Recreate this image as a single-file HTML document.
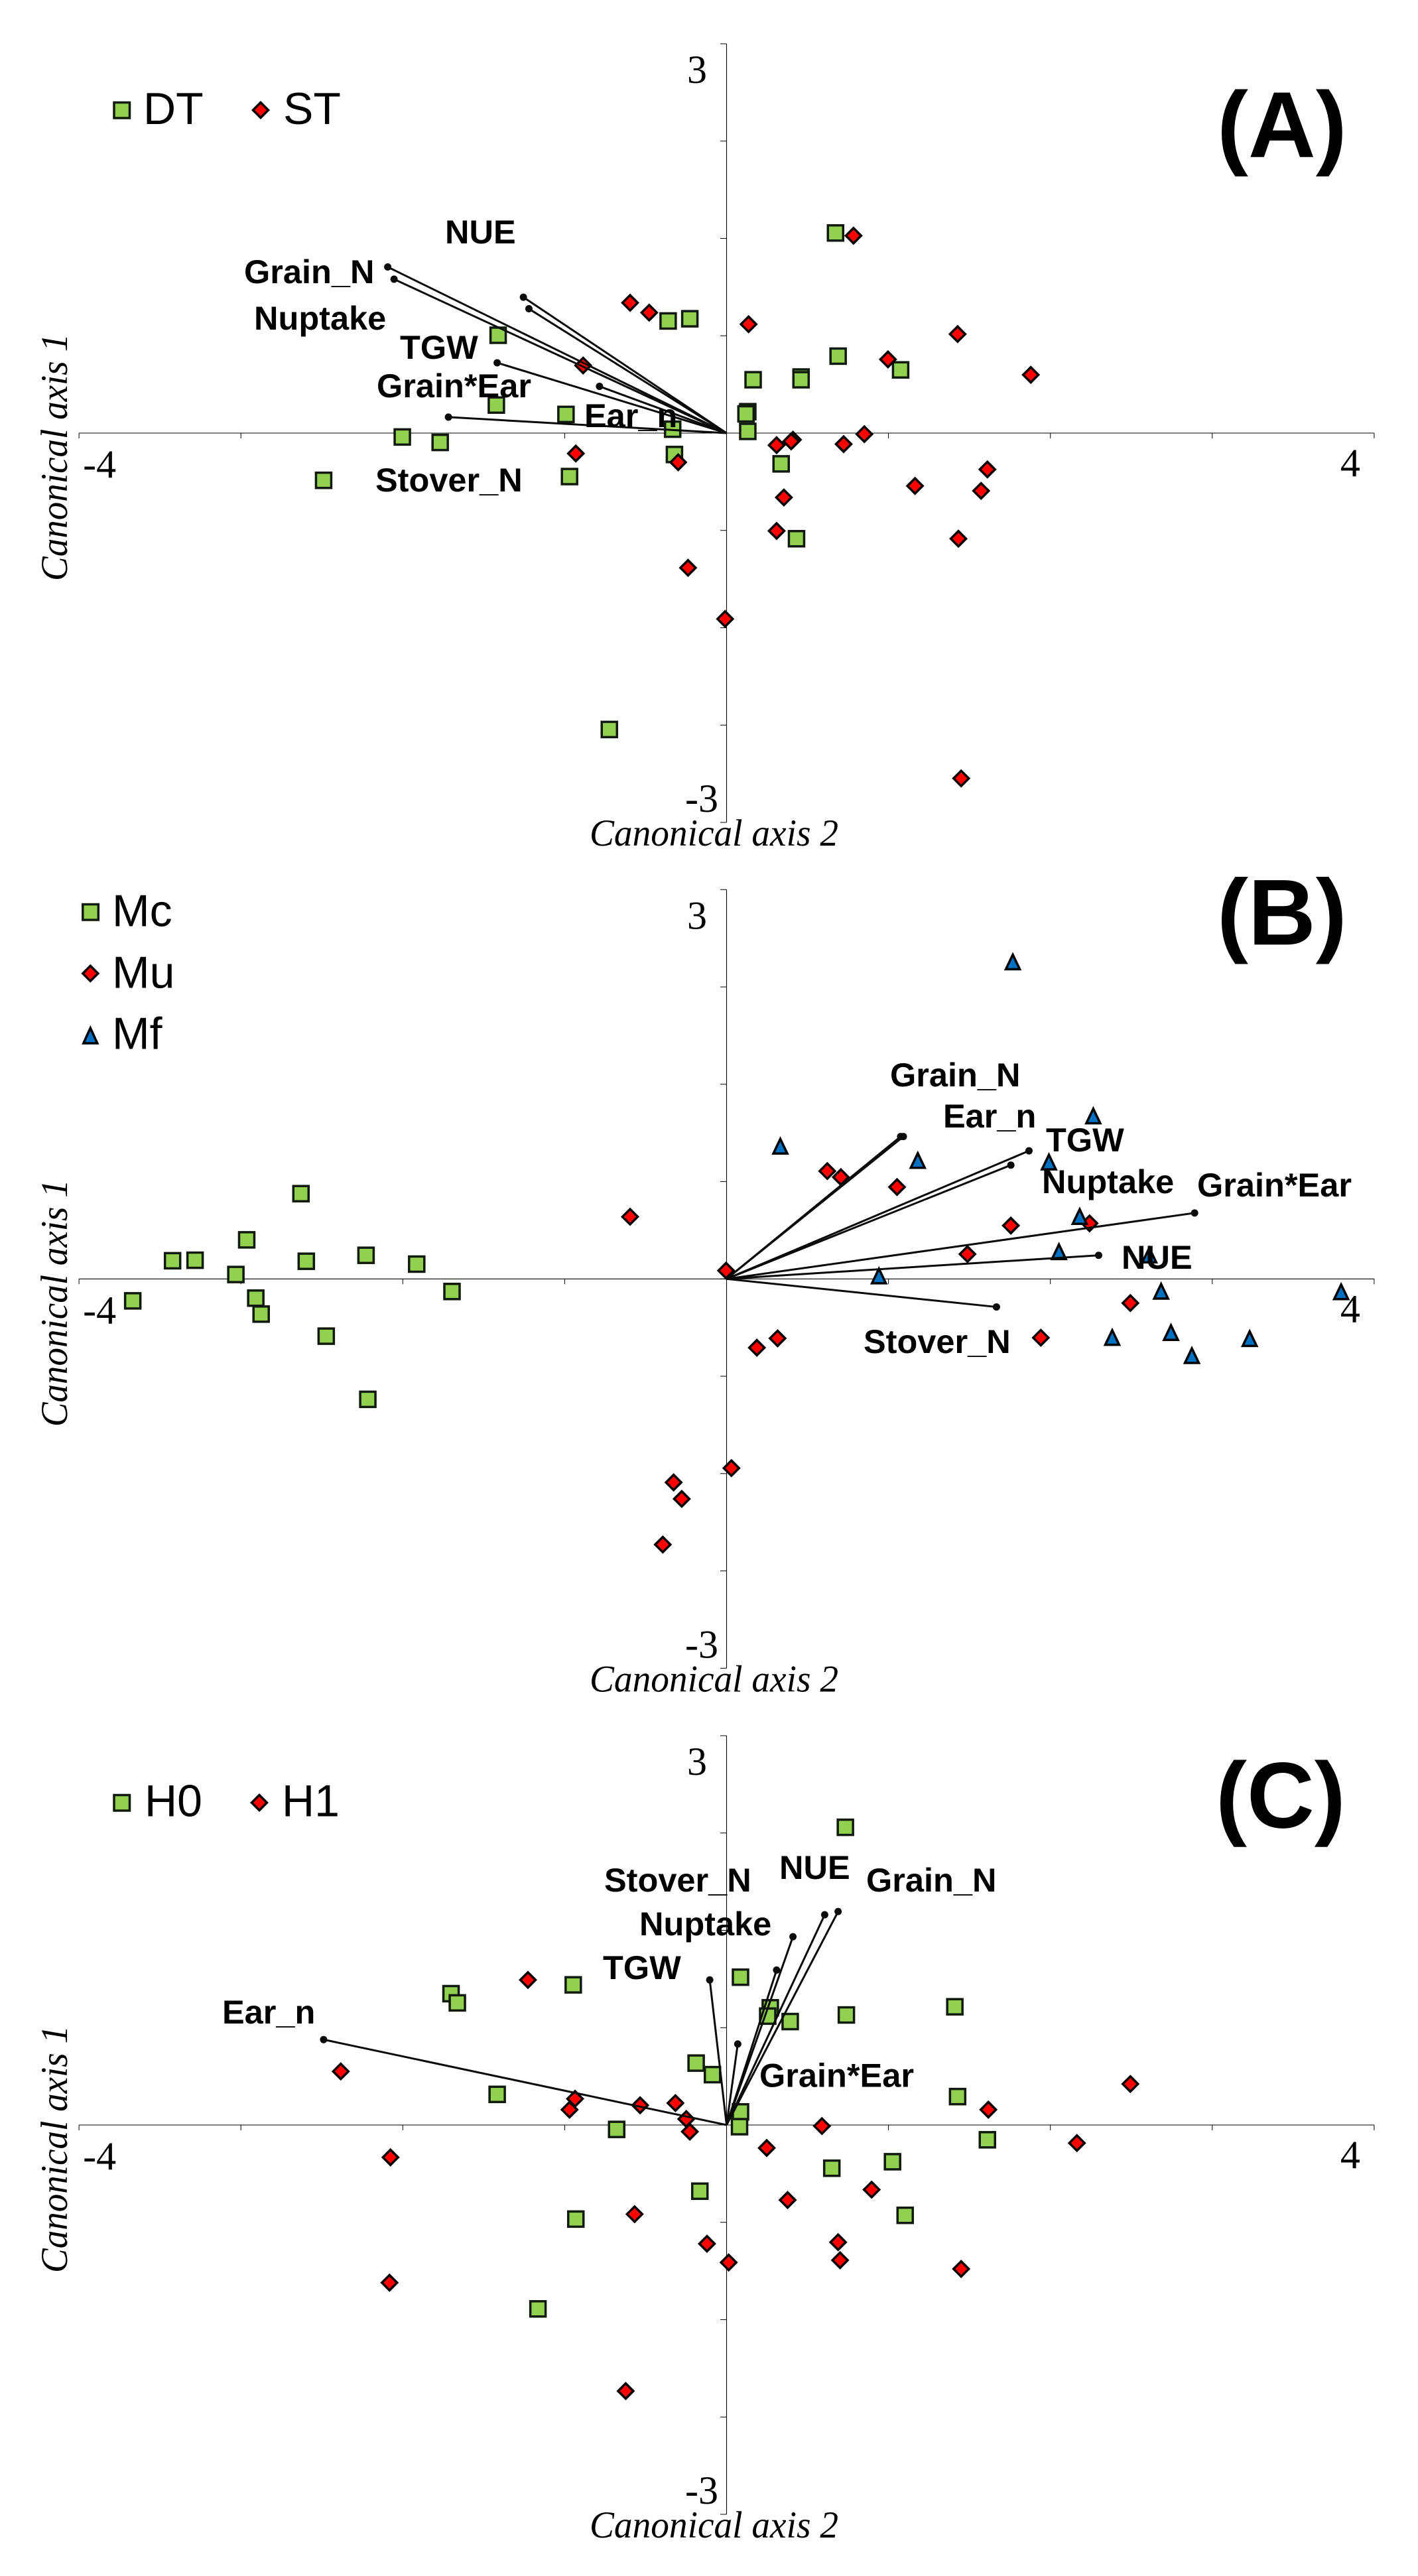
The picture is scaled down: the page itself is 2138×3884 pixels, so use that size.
<!DOCTYPE html>
<html lang="en">
<head>
<meta charset="utf-8">
<title>Canonical discriminant analysis biplots</title>
<style>
html,body{margin:0;padding:0;background:#fff;}
svg{display:block;}
.lab{font-family:"Liberation Sans",Arial,sans-serif;font-weight:700;font-size:50.5px;fill:#000;}
.leg{font-family:"Liberation Sans",Arial,sans-serif;font-size:68px;fill:#000;}
.pan{font-family:"Liberation Sans",Arial,sans-serif;font-weight:700;font-size:141px;fill:#000;}
.tick{font-family:"Liberation Serif","Times New Roman",serif;font-size:60px;fill:#000;}
.ttl{font-family:"Liberation Serif","Times New Roman",serif;font-style:italic;font-size:57px;fill:#000;}
</style>
</head>
<body>
<svg id="chart" xmlns="http://www.w3.org/2000/svg" width="2138" height="3884" viewBox="0 0 2138 3884">
  <rect x="0" y="0" width="2138" height="3884" fill="#ffffff"/>

  <g id="panel-a">
    <g id="axes-a"></g>
    <g id="marks-a"></g>
    <g id="vectors-a"></g>
    <text class="lab" x="671" y="367">NUE</text>
    <text class="lab" x="368" y="427">Grain_N</text>
    <text class="lab" x="383" y="497">Nuptake</text>
    <text class="lab" x="603" y="541">TGW</text>
    <text class="lab" x="568" y="599">Grain*Ear</text>
    <text class="lab" x="881" y="644">Ear_n</text>
    <text class="lab" x="566" y="741">Stover_N</text>
    <g>
      <rect x="172" y="154.5" width="23.5" height="23.5" fill="#92d050" stroke="#111a0e" stroke-width="3.5"/>
      <text class="leg" x="216" y="187">DT</text>
      <polygon points="393,154.5 404.5,166 393,177.5 381.5,166" fill="#ff0000" stroke="#000" stroke-width="3.5"/>
      <text class="leg" x="427" y="187">ST</text>
    </g>
    <text class="pan" x="1835" y="236.7">(A)</text>
  </g>

  <g id="panel-b">
    <g id="axes-b"></g>
    <g id="marks-b"></g>
    <g id="vectors-b"></g>
    <text class="lab" x="1342" y="1638">Grain_N</text>
    <text class="lab" x="1422" y="1700">Ear_n</text>
    <text class="lab" x="1577" y="1736">TGW</text>
    <text class="lab" x="1571" y="1799">Nuptake</text>
    <text class="lab" x="1805" y="1804">Grain*Ear</text>
    <text class="lab" x="1691" y="1913">NUE</text>
    <text class="lab" x="1302" y="2040">Stover_N</text>
    <g>
      <rect x="124.8" y="1363.5" width="23.5" height="23.5" fill="#92d050" stroke="#111a0e" stroke-width="3.5"/>
      <text class="leg" x="169" y="1396.7">Mc</text>
      <polygon points="136.3,1456.2 147.8,1467.7 136.3,1479.2 124.8,1467.7" fill="#ff0000" stroke="#000" stroke-width="3.5"/>
      <text class="leg" x="169" y="1489.7">Mu</text>
      <polygon points="136.3,1550 146.8,1573 125.8,1573" fill="#0070c0" stroke="#000" stroke-width="3.5"/>
      <text class="leg" x="169" y="1581.7">Mf</text>
    </g>
    <text class="pan" x="1835" y="1424.2">(B)</text>
  </g>

  <g id="panel-c">
    <g id="axes-c"></g>
    <g id="marks-c"></g>
    <g id="vectors-c"></g>
    <text class="lab" x="911" y="2852">Stover_N</text>
    <text class="lab" x="1175" y="2833">NUE</text>
    <text class="lab" x="1306" y="2852">Grain_N</text>
    <text class="lab" x="964" y="2918">Nuptake</text>
    <text class="lab" x="909" y="2984">TGW</text>
    <text class="lab" x="335" y="3051">Ear_n</text>
    <text class="lab" x="1145" y="3146.7">Grain*Ear</text>
    <g>
      <rect x="172" y="2706.5" width="23.5" height="23.5" fill="#92d050" stroke="#111a0e" stroke-width="3.5"/>
      <text class="leg" x="218" y="2738.5">H0</text>
      <polygon points="391,2706.5 402.5,2718 391,2729.5 379.5,2718" fill="#ff0000" stroke="#000" stroke-width="3.5"/>
      <text class="leg" x="425" y="2738.5">H1</text>
    </g>
    <text class="pan" x="1833" y="2755.5">(C)</text>
  </g>
</svg>

<script>
// ---- shared axis values ----
const xTickValues = [-4, -3, -2, -1, 0, 1, 2, 3, 4];
const yTickValues = [-3, -2.25, -1.5, -0.75, 0, 0.75, 1.5, 2.25, 3];
const xAxisLabels = ["-4", "4"];
const yAxisLabels = ["3", "-3"];
const xAxisTitle = "Canonical axis 2";
const yAxisTitle = "Canonical axis 1";

// ---- panel A ----
const aDtX = [0.673,-0.361,-0.227,-1.411,0.689,1.075,0.164,0.460,0.460,-1.422,-0.992,0.131,0.120,0.131,-0.333,-2.003,-1.769,-0.322,0.337,-0.970,-2.489,0.432,-0.724];
const aDtY = [1.542,0.864,0.881,0.754,0.593,0.487,0.411,0.432,0.411,0.216,0.144,0.165,0.148,0.013,0.030,-0.030,-0.072,-0.165,-0.237,-0.335,-0.364,-0.814,-2.284];
const aStX = [0.784,-0.596,-0.478,0.136,1.427,-0.886,0.997,1.879,0.851,0.309,0.410,0.399,0.723,-0.931,-0.299,1.611,1.164,1.572,0.354,0.309,1.432,-0.238,-0.009,1.449];
const aStY = [1.521,1.004,0.928,0.839,0.763,0.521,0.568,0.449,-0.008,-0.093,-0.051,-0.064,-0.085,-0.157,-0.225,-0.280,-0.407,-0.445,-0.496,-0.754,-0.814,-1.038,-1.432,-2.661];
const aVectorX = [-2.093,-2.054,-1.255,-1.221,-1.417,-0.785,-1.718];
const aVectorY = [1.280,1.186,1.047,0.958,0.542,0.360,0.123];

// ---- panel B ----
const bMcX = [-2.629,-2.964,-3.422,-3.283,-2.596,-2.227,-1.914,-3.031,-1.696,-3.668,-2.908,-2.875,-2.473,-2.216];
const bMcY = [0.657,0.301,0.140,0.144,0.136,0.182,0.114,0.034,-0.097,-0.169,-0.148,-0.271,-0.441,-0.928];
const bMuX = [-0.596,-0.003,0.622,0.706,1.053,1.756,2.242,1.488,2.494,1.941,0.315,0.187,0.030,-0.327,-0.277,-0.394];
const bMuY = [0.479,0.064,0.831,0.784,0.708,0.411,0.428,0.191,-0.186,-0.453,-0.458,-0.530,-1.458,-1.568,-1.695,-2.047];
const bMfX = [1.768,2.265,0.332,1.181,1.991,2.181,2.053,2.611,0.941,2.684,3.796,2.382,2.745,2.874,3.231];
const bMfY = [2.445,1.258,1.025,0.915,0.903,0.483,0.212,0.186,0.025,-0.093,-0.097,-0.449,-0.411,-0.589,-0.458];
const bVectorX = [1.092,1.075,1.868,1.756,2.891,2.298,1.667];
const bVectorY = [1.097,1.097,0.987,0.877,0.508,0.182,-0.216];

// ---- panel C ----
const cH0X = [0.734,0.086,-0.947,-1.702,-1.663,0.270,0.254,0.393,0.740,1.410,-0.188,-0.087,-1.417,1.427,0.086,0.080,-0.679,1.611,1.025,0.650,-0.165,1.103,-0.931,-1.165];
const cH0Y = [2.294,1.139,1.080,1.012,0.941,0.903,0.839,0.797,0.848,0.911,0.477,0.388,0.236,0.219,0.101,-0.013,-0.034,-0.114,-0.283,-0.333,-0.510,-0.696,-0.725,-1.417];
const cH1X = [2.494,-1.227,-2.383,-0.936,-0.970,-0.534,-0.316,-0.249,-0.227,0.589,1.617,2.164,0.248,-2.076,0.896,0.377,-0.568,-0.121,0.689,0.701,0.013,1.449,-2.082,-0.623];
const cH1Y = [0.316,1.118,0.413,0.202,0.118,0.152,0.169,0.046,-0.051,-0.008,0.118,-0.139,-0.177,-0.249,-0.498,-0.578,-0.687,-0.915,-0.903,-1.042,-1.059,-1.109,-1.215,-2.050];
const cVectorX = [0.689,0.606,0.410,0.309,-0.104,0.069,-2.489];
const cVectorY = [1.645,1.620,1.451,1.194,1.118,0.624,0.658];

// ---- scales ----
const SVG_NS = "http://www.w3.org/2000/svg";
const ORIGIN_X = 1095.5;
const X_UNIT = 244.1;
const Y_UNIT = 195.67;
const ORIGIN_A = 653;
const ORIGIN_B = 1928.3;
const ORIGIN_C = 3204;

function xScale(v) { return ORIGIN_X + v * X_UNIT; }
function yScale(originY, v) { return originY - v * Y_UNIT; }
function node(tag) { return document.createElementNS(SVG_NS, tag); }
function setAll(el, attrs) { for (const k in attrs) el.setAttribute(k, attrs[k]); return el; }

function drawAxes(groupId, originY) {
  const g = document.getElementById(groupId);
  const xMin = xScale(xTickValues[0]);
  const xMax = xScale(xTickValues[xTickValues.length - 1]);
  const yTop = yScale(originY, yTickValues[yTickValues.length - 1]);
  const yBot = yScale(originY, yTickValues[0]);

  const xLine = setAll(node("line"), {x1: xMin, x2: xMax, y1: originY, y2: originY, stroke: "#000", "stroke-width": 1.1});
  
  
  g.appendChild(xLine);

  const yLine = setAll(node("line"), {x1: ORIGIN_X, x2: ORIGIN_X, y1: yTop, y2: yBot, stroke: "#000", "stroke-width": 1.1});
  
  
  g.appendChild(yLine);

  xTickValues.forEach(function (v) {
    const t = setAll(node("line"), {x1: xScale(v), x2: xScale(v), y1: originY, y2: originY + 8, stroke: "#000", "stroke-width": 1});
    
    
    g.appendChild(t);
  });
  yTickValues.forEach(function (v) {
    const t = setAll(node("line"), {x1: ORIGIN_X - 9.5, x2: ORIGIN_X, y1: yScale(originY, v), y2: yScale(originY, v), stroke: "#000", "stroke-width": 1});
    
    
    g.appendChild(t);
  });

  const xLow = setAll(node("text"), {x: xMin + 6, y: originY + 67, "class": "tick"});
  xLow.textContent = xAxisLabels[0];
  
  
  g.appendChild(xLow);

  const xHigh = setAll(node("text"), {x: xMax - 51, y: originY + 65, "class": "tick"});
  xHigh.textContent = xAxisLabels[1];
  
  
  g.appendChild(xHigh);

  const yHigh = setAll(node("text"), {x: 1036, y: yTop + 59, "class": "tick"});
  yHigh.textContent = yAxisLabels[0];
  
  
  g.appendChild(yHigh);

  const yLow = setAll(node("text"), {x: 1033, y: yBot - 16, "class": "tick"});
  yLow.textContent = yAxisLabels[1];
  
  
  g.appendChild(yLow);

  const xt = setAll(node("text"), {x: 889, y: yBot + 35, "class": "ttl", textLength: 375, lengthAdjust: "spacingAndGlyphs"});
  xt.textContent = xAxisTitle;
  
  
  g.appendChild(xt);

  const yt = setAll(node("text"), {x: 0, y: 0, "class": "ttl", textLength: 373, lengthAdjust: "spacingAndGlyphs", transform: "translate(101," + (originY + 223) + ") rotate(-90)"});
  yt.textContent = yAxisTitle;
  
  
  g.appendChild(yt);
}

function drawSquares(groupId, originY, xs, ys) {
  const g = document.getElementById(groupId);
  xs.forEach(function (v, i) {
    const s = 23;
    const el = setAll(node("rect"), {x: xScale(v) - s / 2, y: yScale(originY, ys[i]) - s / 2, width: s, height: s, fill: "#92d050", stroke: "#111a0e", "stroke-width": 3.5});
    
    
    g.appendChild(el);
  });
}

function drawDiamonds(groupId, originY, xs, ys) {
  const g = document.getElementById(groupId);
  xs.forEach(function (v, i) {
    const cx = xScale(v), cy = yScale(originY, ys[i]), h = 11.5;
    const pts = [cx, cy - h, cx + h, cy, cx, cy + h, cx - h, cy].join(" ");
    const el = setAll(node("polygon"), {points: pts, fill: "#ff0000", stroke: "#000", "stroke-width": 3.5});
    
    
    g.appendChild(el);
  });
}

function drawTriangles(groupId, originY, xs, ys) {
  const g = document.getElementById(groupId);
  xs.forEach(function (v, i) {
    const cx = xScale(v), cy = yScale(originY, ys[i]);
    const pts = [cx, cy - 10.5, cx + 10.5, cy + 11.5, cx - 10.5, cy + 11.5].join(" ");
    const el = setAll(node("polygon"), {points: pts, fill: "#0070c0", stroke: "#000", "stroke-width": 3.5});
    
    
    g.appendChild(el);
  });
}

function drawVectors(groupId, originY, xs, ys) {
  const g = document.getElementById(groupId);
  xs.forEach(function (v, i) {
    const tx = xScale(v), ty = yScale(originY, ys[i]);
    const line = setAll(node("line"), {x1: xScale(0), y1: yScale(originY, 0), x2: tx, y2: ty, stroke: "#0a0a0a", "stroke-width": 3});
    
    
    g.appendChild(line);
    const dot = setAll(node("circle"), {cx: tx, cy: ty, r: 5.5, fill: "#0a0a0a"});
    
    
    g.appendChild(dot);
  });
}

drawAxes("axes-a", ORIGIN_A);
drawSquares("marks-a", ORIGIN_A, aDtX, aDtY);
drawDiamonds("marks-a", ORIGIN_A, aStX, aStY);
drawVectors("vectors-a", ORIGIN_A, aVectorX, aVectorY);

drawAxes("axes-b", ORIGIN_B);
drawSquares("marks-b", ORIGIN_B, bMcX, bMcY);
drawDiamonds("marks-b", ORIGIN_B, bMuX, bMuY);
drawTriangles("marks-b", ORIGIN_B, bMfX, bMfY);
drawVectors("vectors-b", ORIGIN_B, bVectorX, bVectorY);

drawAxes("axes-c", ORIGIN_C);
drawSquares("marks-c", ORIGIN_C, cH0X, cH0Y);
drawDiamonds("marks-c", ORIGIN_C, cH1X, cH1Y);
drawVectors("vectors-c", ORIGIN_C, cVectorX, cVectorY);
</script>
</body>
</html>
